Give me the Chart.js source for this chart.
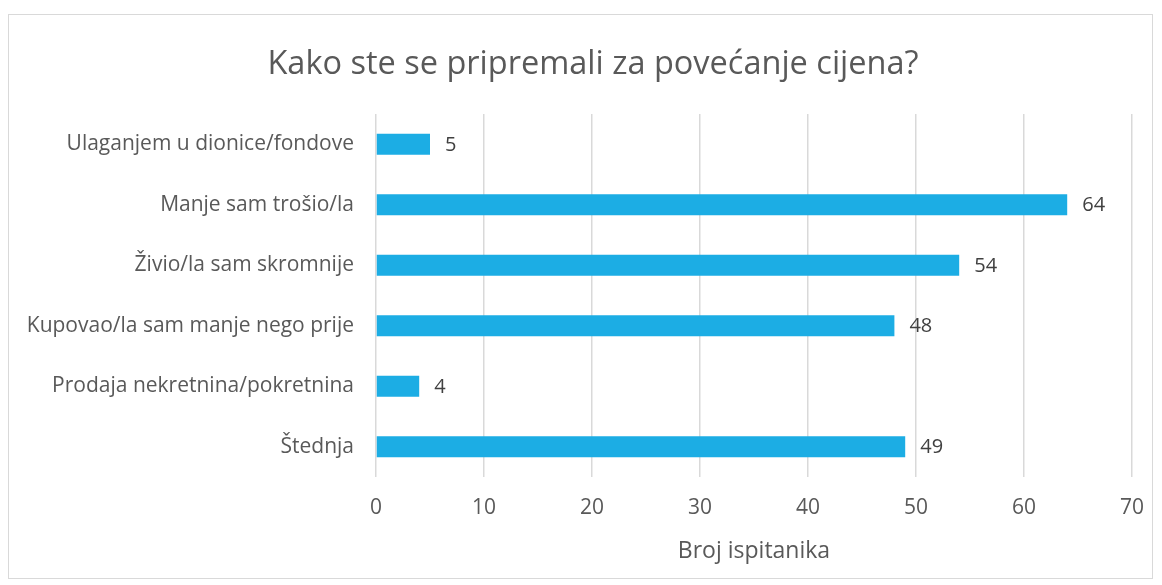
<!DOCTYPE html>
<html>
<head>
<meta charset="utf-8">
<script src="https://cdn.jsdelivr.net/npm/chart.js@4.4.0/dist/chart.umd.min.js"></script>
<style>
  body { margin: 0; background: #fff; }
  #box { position: absolute; left: 8px; top: 14px; width: 1143px; height: 563px; border: 1px solid #d9d9d9; }
</style>
</head>
<body>
<div id="box"><canvas id="surveyChart" width="1143" height="563"></canvas></div>
<script>
var categories = ['Ulaganjem u dionice/fondove', 'Manje sam trošio/la', 'Živio/la sam skromnije',
    'Kupovao/la sam manje nego prije', 'Prodaja nekretnina/pokretnina', 'Štednja'];
var respondents = [5, 64, 54, 48, 4, 49];
var xTicks = [0, 10, 20, 30, 40, 50, 60, 70];

var fontFamily = '"Open Sans", "Noto Sans", sans-serif';

// writes the value just right of each bar
var valueLabels = {
    id: 'valueLabels',
    afterDatasetsDraw: function(chart) {
        var ctx = chart.ctx;
        var meta = chart.getDatasetMeta(0);
        ctx.save();
        ctx.font = '20px ' + fontFamily;
        ctx.fillStyle = '#404040';
        ctx.textAlign = 'left';
        ctx.textBaseline = 'middle';
        meta.data.forEach(function(bar, i) {
            ctx.fillText(respondents[i], bar.x + 15, bar.y + 1);
        });
        ctx.restore();
    }
};

// the title in the original sits a bit right of the canvas centre
var titleShift = {
    id: 'titleShift',
    afterLayout: function(chart) {
        if (chart.titleBlock) {
            chart.titleBlock.left += 25;
        }
    }
};

var ctx = document.getElementById('surveyChart').getContext('2d');
new Chart(ctx, {
    type: 'bar',
    data: {
        labels: categories,
        datasets: [{
            data: respondents,
            backgroundColor: '#1CADE4',
            barPercentage: 0.35,
            categoryPercentage: 1
        }]
    },
    options: {
        indexAxis: 'y',
        responsive: false,
        animation: false,
        layout: { padding: 0 },
        plugins: {
            legend: { display: false },
            tooltip: { enabled: false },
            title: {
                display: true,
                text: 'Kako ste se pripremali za povećanje cijena?',
                color: '#595959',
                font: { family: fontFamily, size: 32.5, weight: 'normal' },
                padding: { top: 30, bottom: 30 }
            }
        },
        scales: {
            x: {
                min: 0,
                max: 70,
                afterBuildTicks: function(axis) {
                    axis.ticks = xTicks.map(function(v) { return { value: v }; });
                },
                grid: { color: '#d9d9d9', lineWidth: 1.5, drawTicks: false },
                border: { display: false },
                ticks: { color: '#595959', padding: 18, font: { family: fontFamily, size: 21 } },
                title: {
                    display: true,
                    text: 'Broj ispitanika',
                    color: '#595959',
                    font: { family: fontFamily, size: 23 },
                    padding: { top: 10, bottom: 13 }
                },
                afterFit: function(axis) {
                    axis.height = 101;
                    axis.paddingRight = 20;
                }
            },
            y: {
                grid: { display: false, drawTicks: false },
                border: { display: false },
                ticks: { color: '#595959', padding: 22, font: { family: fontFamily, size: 21 } },
                afterFit: function(axis) { axis.width = 367; }
            }
        }
    },
    plugins: [valueLabels, titleShift]
});
</script>
</body>
</html>
